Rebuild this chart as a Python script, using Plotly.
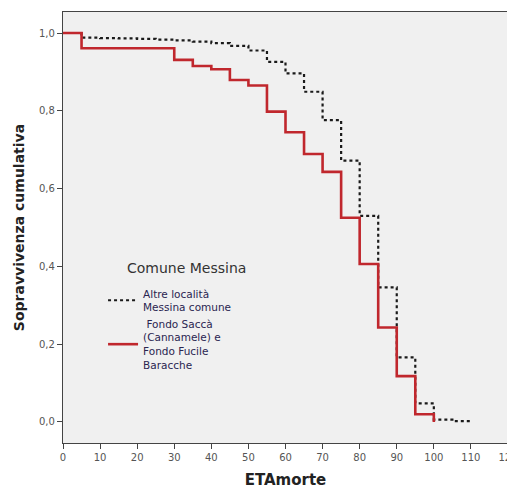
import plotly.graph_objects as go

# Kaplan-Meier step values (age at death, cumulative survival)
altre_age = [0, 5, 10, 15, 20, 25, 30, 35, 40, 45, 50, 55, 60, 65, 70, 75, 80, 85, 90, 95, 100, 105, 110]
altre_surv = [1.0, 0.988, 0.987, 0.986, 0.985, 0.983, 0.981, 0.978, 0.974, 0.967, 0.955, 0.926, 0.896,
              0.849, 0.776, 0.672, 0.530, 0.346, 0.166, 0.048, 0.006, 0.002, 0.002]

fondo_age = [0, 5, 30, 35, 40, 45, 50, 55, 60, 65, 70, 75, 80, 85, 90, 95, 100]
fondo_surv = [1.0, 0.961, 0.931, 0.915, 0.907, 0.879, 0.865, 0.798, 0.745, 0.689, 0.643, 0.525,
              0.406, 0.243, 0.118, 0.020, 0.0]

x_ticks = list(range(0, 121, 10))
y_ticks = [0.0, 0.2, 0.4, 0.6, 0.8, 1.0]
y_tick_text = ["0,0", "0,2", "0,4", "0,6", "0,8", "1,0"]

fig = go.Figure()
fig.add_trace(go.Scatter(
    x=altre_age, y=altre_surv, mode="lines", line_shape="hv",
    line=dict(color="#1a1a1a", width=2.2, dash="dot"),
    name="Altre località<br>Messina comune",
))
fig.add_trace(go.Scatter(
    x=fondo_age, y=fondo_surv, mode="lines", line_shape="hv",
    line=dict(color="#c0272d", width=2.6),
    name=" Fondo Saccà<br>(Cannamele) e<br>Fondo Fucile<br>Baracche",
))

axis_common = dict(
    showgrid=False, zeroline=False, showline=True, linecolor="#444444", linewidth=1.2,
    mirror=True, ticks="outside", ticklen=5, tickcolor="#444444", automargin=False,
    ticklabeloverflow="allow",
    tickfont=dict(family="DejaVu Sans", size=10, color="#555555"),
)

# page body has an 8px default margin, so the figure is sized to fit inside it
fig.update_layout(
    width=507, height=483,
    margin=dict(l=55, r=7, t=4, b=48),
    paper_bgcolor="white", plot_bgcolor="#f0f0f0",
    xaxis=dict(range=[0, 120], tickvals=x_ticks,
               title=dict(text="<b>ETAmorte</b>", font=dict(family="DejaVu Sans", size=15, color="#222222"),
                          standoff=12),
               **axis_common),
    yaxis=dict(range=[-0.054, 1.054], tickvals=y_ticks, ticktext=y_tick_text,
               title=dict(text="<b>Sopravvivenza cumulativa</b>",
                          font=dict(family="DejaVu Sans", size=14, color="#222222"), standoff=11),
               **axis_common),
    showlegend=True,
    legend=dict(
        x=0.09, y=0.378, xanchor="left", yanchor="top",
        bgcolor="rgba(0,0,0,0)",
        font=dict(family="DejaVu Sans", size=10.5, color="#2a2550"),
        itemwidth=30, tracegroupgap=2, valign="middle",
    ),
    annotations=[dict(
        text="Comune Messina", xref="paper", yref="paper", x=0.139, y=0.406,
        xanchor="left", yanchor="middle", showarrow=False,
        font=dict(family="DejaVu Sans", size=14, color="#333333"),
    )],
)

fig.write_html("out.html")
